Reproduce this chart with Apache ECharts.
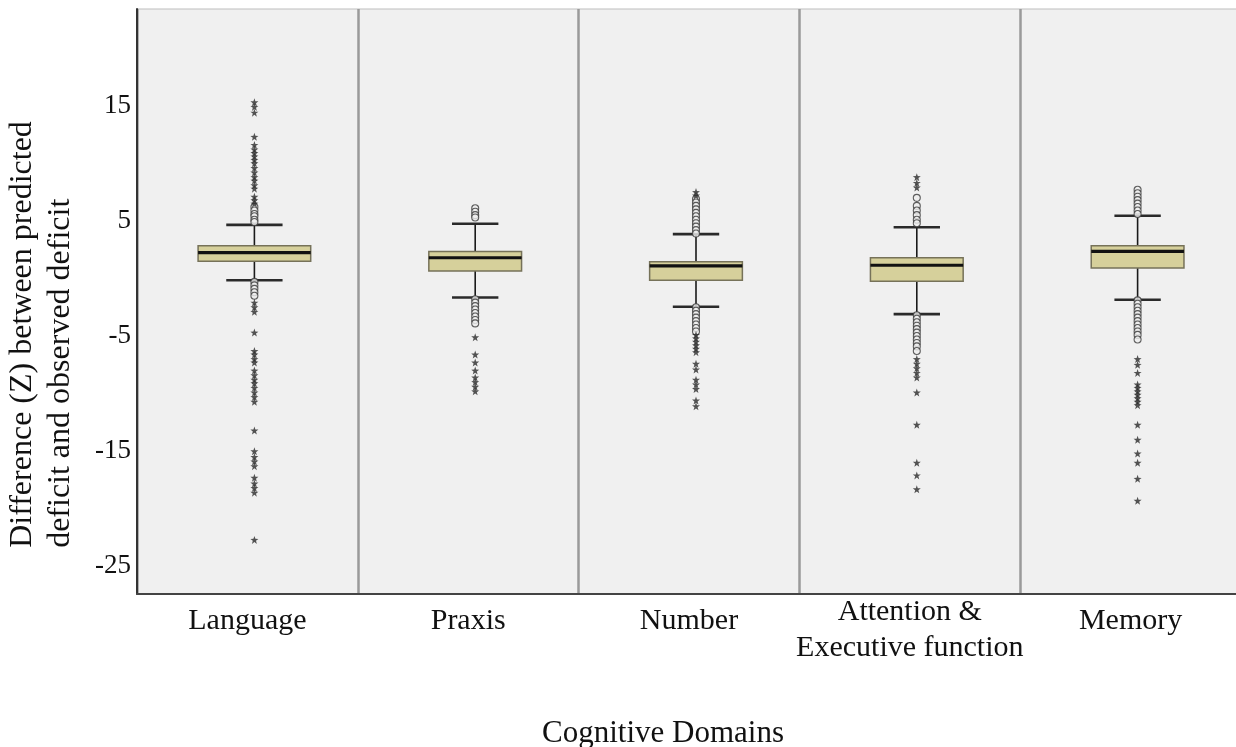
<!DOCTYPE html>
<html>
<head>
<meta charset="utf-8">
<script src="https://cdn.jsdelivr.net/npm/echarts@6/dist/echarts.min.js"></script>
<style>
html,body{margin:0;padding:0;background:#ffffff;}
#chart{width:1236px;height:747px;}
</style>
</head>
<body>
<div id="chart"></div>
<script>
// ---------- data ----------
const categories = ['Language', 'Praxis', 'Number', 'Attention &\nExecutive function', 'Memory'];
const yTickValues = [-25, -15, -5, 5, 15];

// box summary per domain: lower whisker, Q1, median, Q3, upper whisker
const whiskerLow = [-0.15, -1.65, -2.45, -3.1, -1.85];
const quartile1  = [1.5, 0.65, -0.15, -0.25, 0.9];
const medians    = [2.25, 1.8, 1.1, 1.15, 2.35];
const quartile3  = [2.85, 2.35, 1.45, 1.8, 2.85];
const whiskerHigh = [4.65, 4.75, 3.85, 4.45, 5.45];

// outliers (circles) and extreme values (stars)
const languageCircles = [6.2, 5.9, 5.6, 5.4, 5.1, 4.9, -0.3, -0.6, -0.9, -1.2, -1.5];
const languageStars = [15.3, 14.9, 14.4, 12.3, 11.6, 11.2, 10.9, 10.6, 10.3, 10.0, 9.6, 9.2, 8.8, 8.5, 8.1, 7.8, 7.1, 6.8, 6.5,
  -2.1, -2.5, -2.9, -4.7, -6.3, -6.6, -7.0, -7.3, -8.0, -8.4, -8.8, -9.1, -9.5, -9.9, -10.3, -10.7, -13.2, -15.0, -15.5, -15.9, -16.3,
  -17.3, -17.8, -18.2, -18.6, -22.7];
const praxisCircles = [6.1, 5.8, 5.5, 5.3, -1.8, -2.1, -2.4, -2.7, -3.0, -3.3, -3.6, -3.9];
const praxisStars = [-5.1, -6.6, -7.3, -8.0, -8.6, -9.0, -9.4, -9.8];
const numberCircles = [6.9, 6.6, 6.3, 6.0, 5.7, 5.4, 5.1, 4.8, 4.5, 4.2, 3.9, -2.5, -2.8, -3.1, -3.4, -3.7, -4.0, -4.3, -4.6];
const numberStars = [7.5, 7.2, -4.9, -5.2, -5.5, -5.8, -6.1, -6.4, -7.4, -7.9, -8.8, -9.2, -9.6, -10.6, -11.1];
const attentionCircles = [7.0, 6.3, 5.9, 5.5, 5.1, 4.8, -3.2, -3.5, -3.8, -4.1, -4.4, -4.7, -5.0, -5.3, -5.6, -5.9, -6.3];
const attentionStars = [8.8, 8.3, 7.9, -7.0, -7.4, -7.8, -8.2, -8.6, -9.9, -12.7, -16.0, -17.1, -18.3];
const memoryCircles = [7.7, 7.4, 7.1, 6.8, 6.5, 6.2, 5.9, 5.6, -1.9, -2.2, -2.5, -2.8, -3.1, -3.4, -3.7, -4.0, -4.3, -4.6, -4.9, -5.3];
const memoryStars = [-7.0, -7.5, -8.2, -9.2, -9.5, -9.8, -10.1, -10.4, -10.7, -11.0, -12.7, -14.0, -15.2, -16.0, -17.4, -19.3];

// ---------- styling ----------
const serif = '"Liberation Serif", "Times New Roman", serif';
const boxWidthRatio = [0.51, 0.42, 0.42, 0.42, 0.42];
const boxShift = 7;
const starPath = 'path://M0,-10 L2.35,-3.24 L9.51,-3.09 L3.8,1.24 L5.88,8.09 L0,4 L-5.88,8.09 L-3.8,1.24 L-9.51,-3.09 L-2.35,-3.24 Z';

const circleGroups = [languageCircles, praxisCircles, numberCircles, attentionCircles, memoryCircles];
const starGroups = [languageStars, praxisStars, numberStars, attentionStars, memoryStars];

const boxData = categories.map(function (c, i) {
  return [i, whiskerLow[i], quartile1[i], medians[i], quartile3[i], whiskerHigh[i]];
});
function toPoints(groups) {
  const out = [];
  groups.forEach(function (vals, i) { vals.forEach(function (v) { out.push([i, v]); }); });
  return out;
}
const categoryItems = categories.map(function (c) {
  return c.indexOf('\n') >= 0 ? { value: c, textStyle: { lineHeight: 36 } } : { value: c };
});

const chart = echarts.init(document.getElementById('chart'), null, { renderer: 'canvas' });
chart.setOption({
  animation: false,
  backgroundColor: '#ffffff',
  grid: {
    left: 137, top: 9, bottom: 153, width: 1104,
    outerBoundsMode: 'none',
    containLabel: false,
    show: true, backgroundColor: '#f0f0f0', borderColor: '#bdbdbd', borderWidth: 1
  },
  xAxis: {
    type: 'category',
    data: categoryItems,
    boundaryGap: true,
    axisLine: { show: true, onZero: false, lineStyle: { color: '#444', width: 2 } },
    axisTick: { show: false },
    axisLabel: { interval: 0, margin: 0, fontFamily: serif, fontSize: 30, color: '#111', lineHeight: 54 },
    splitLine: { show: true, interval: 0, lineStyle: { color: '#9a9a9a', width: 2.5 } },
    name: 'Cognitive Domains',
    nameLocation: 'middle',
    nameGap: 124,
    nameTextStyle: { fontFamily: serif, fontSize: 31, color: '#111', padding: [0, 52, 0, 0] }
  },
  yAxis: {
    type: 'value',
    min: -27.4,
    max: 23.4,
    axisLine: { show: true, lineStyle: { color: '#333', width: 2 } },
    axisTick: { show: false },
    splitLine: { show: false },
    axisLabel: { customValues: yTickValues, margin: 6, fontFamily: serif, fontSize: 27, color: '#111' },
    name: '{a|Difference (Z) between predicted}\n{a|deficit and observed deficit}',
    nameLocation: 'middle',
    nameGap: 57,
    nameTextStyle: {
      fontFamily: serif, fontSize: 32, color: '#111', lineHeight: 38, padding: [0, 66, 0, 0],
      rich: { a: { fontFamily: serif, fontSize: 32, color: '#111', lineHeight: 38, align: 'left' } }
    }
  },
  series: [
    {
      type: 'custom',
      name: 'box',
      data: boxData,
      encode: { x: 0, y: [1, 2, 3, 4, 5] },
      z: 3,
      renderItem: function (params, api) {
        const ci = api.value(0);
        const lo = api.coord([ci, api.value(1)]);
        const q1 = api.coord([ci, api.value(2)]);
        const md = api.coord([ci, api.value(3)]);
        const q3 = api.coord([ci, api.value(4)]);
        const hi = api.coord([ci, api.value(5)]);
        const band = api.size([1, 0])[0];
        const w = band * boxWidthRatio[ci];
        const cx = lo[0] + boxShift;
        const cap = w / 2;
        const stem = { stroke: '#1a1a1a', lineWidth: 1.6 };
        const capStyle = { stroke: '#2a2a2a', lineWidth: 2.6 };
        return {
          type: 'group',
          children: [
            { type: 'line', shape: { x1: cx, y1: hi[1], x2: cx, y2: q3[1] }, style: stem },
            { type: 'line', shape: { x1: cx, y1: q1[1], x2: cx, y2: lo[1] }, style: stem },
            { type: 'line', shape: { x1: cx - cap / 2, y1: hi[1], x2: cx + cap / 2, y2: hi[1] }, style: capStyle },
            { type: 'line', shape: { x1: cx - cap / 2, y1: lo[1], x2: cx + cap / 2, y2: lo[1] }, style: capStyle },
            { type: 'rect', shape: { x: cx - w / 2, y: q3[1], width: w, height: q1[1] - q3[1] },
              style: { fill: '#d6d09b', stroke: '#767259', lineWidth: 1.5 } },
            { type: 'line', shape: { x1: cx - w / 2, y1: md[1], x2: cx + w / 2, y2: md[1] },
              style: { stroke: '#111', lineWidth: 3.2 } }
          ]
        };
      }
    },
    {
      type: 'scatter',
      name: 'Outliers',
      data: toPoints(circleGroups),
      symbol: 'circle',
      symbolSize: 7,
      symbolOffset: [boxShift, 0],
      itemStyle: { color: '#ededed', borderColor: '#3a3a3a', borderWidth: 1.1 },
      z: 4
    },
    {
      type: 'scatter',
      name: 'Extremes',
      data: toPoints(starGroups),
      symbol: starPath,
      symbolSize: 8,
      symbolOffset: [boxShift, 0],
      itemStyle: { color: '#2a2a2a' },
      z: 5
    }
  ]
});
</script>
</body>
</html>
